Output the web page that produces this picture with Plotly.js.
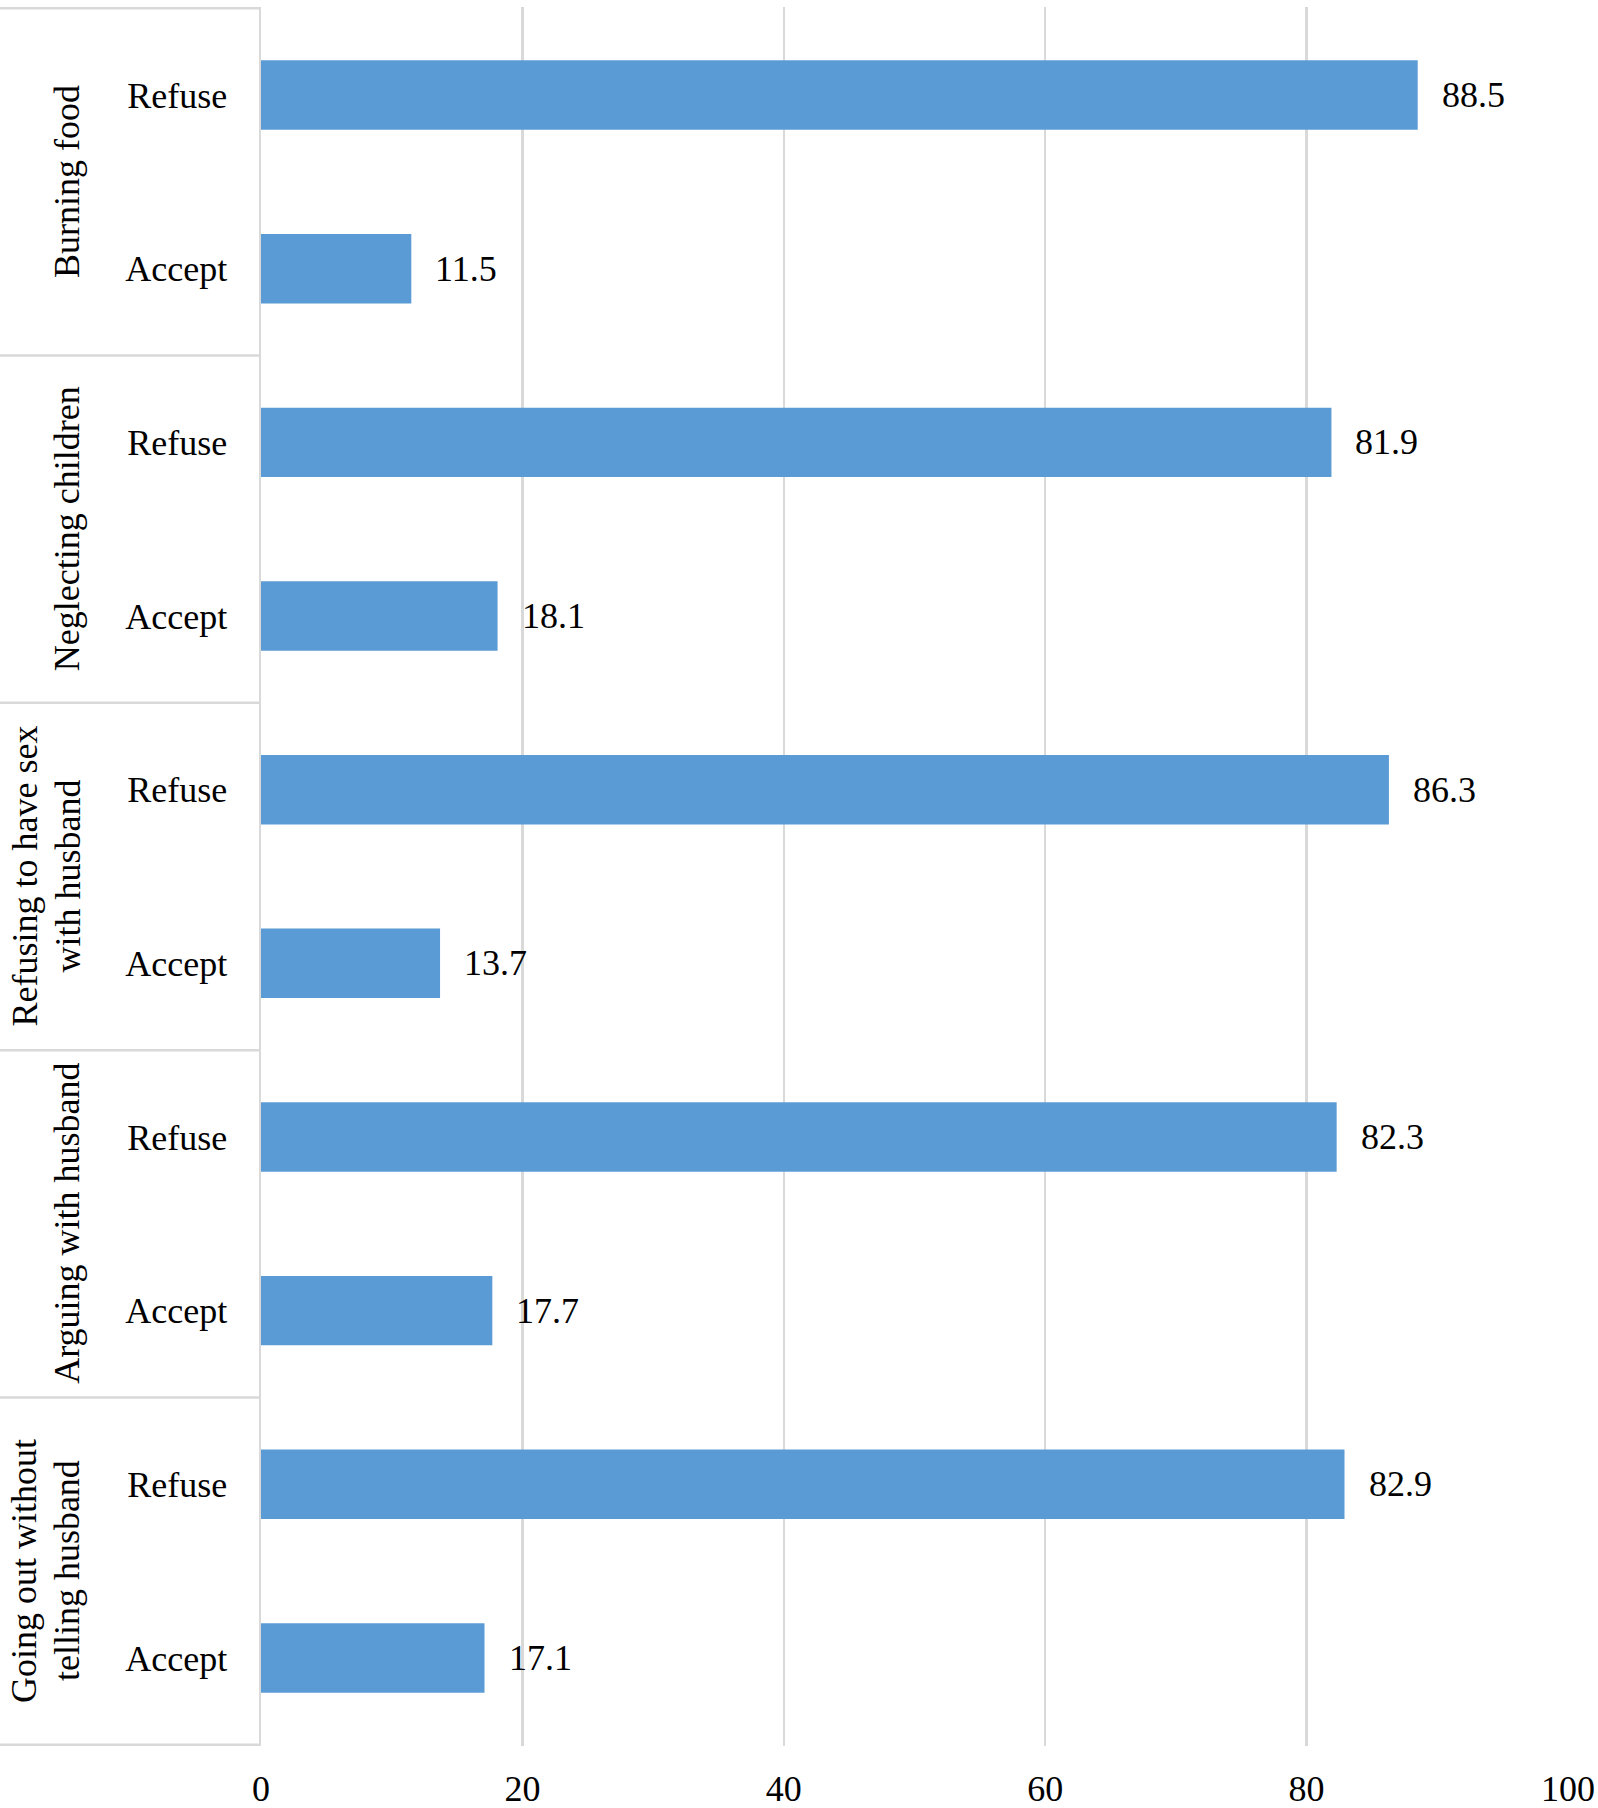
<!DOCTYPE html>
<html><head><meta charset="utf-8">
<script src="https://cdn.plot.ly/plotly-3.0.1.min.js"></script>
<style>body{margin:0;background:#fff}</style>
</head><body><div id="chart" style="width:1598px;height:1808px"></div>
<script>
const groups = ['Burning food', 'Neglecting children', 'Refusing to have sex<br>with husband', 'Arguing with husband', 'Going out without<br>telling husband'];
const responses = ['Refuse', 'Accept'];
const refuseValues = [88.5, 81.9, 86.3, 82.3, 82.9];
const acceptValues = [11.5, 18.1, 13.7, 17.7, 17.1];
const xTicks = [0, 20, 40, 60, 80, 100];

const FONT = '"Liberation Serif", "Times New Roman", serif';
const FS = 36;
const GRID = '#d9d9d9';

const cats = [], vals = [], tickText = [];
groups.forEach((g, i) => {
  const series = [refuseValues[i], acceptValues[i]];
  responses.forEach((r, j) => {
    cats.push('g' + i + '|' + r);
    vals.push(series[j]);
    tickText.push(r);
  });
});

const annotations = [];
cats.forEach((c, k) => {
  annotations.push({
    x: vals[k], y: c, xref: 'x', yref: 'y',
    text: vals[k].toFixed(1), showarrow: false,
    xanchor: 'left', xshift: 22,
    font: {family: FONT, size: FS, color: '#000'}
  });
});
groups.forEach((g, i) => {
  const lines = g.split('<br>');
  lines.forEach((ln, k) => {
    annotations.push({
      x: 0, xref: 'paper', y: 2 * i + 0.5, yref: 'y',
      text: ln, showarrow: false, textangle: -90,
      xanchor: 'right', xshift: -172 - (lines.length - 1 - k) * 43, align: 'center',
      font: {family: FONT, size: FS, color: '#000'}
    });
  });
});

const shapes = [];
for (let i = 0; i <= groups.length; i++) {
  shapes.push({
    type: 'line', xref: 'paper', yref: 'y',
    x0: -0.2, x1: 0, y0: 2 * i - 0.5, y1: 2 * i - 0.5,
    line: {color: GRID, width: 2.5}
  });
}

const trace = {
  type: 'bar', orientation: 'h',
  x: vals, y: cats,
  marker: {color: '#5B9BD5'},
  hoverinfo: 'skip', cliponaxis: false
};

const layout = {
  width: 1598, height: 1808,
  margin: {l: 261, r: 30, t: 7, b: 62, pad: 0},
  paper_bgcolor: '#fff', plot_bgcolor: '#fff',
  bargap: 0.6, showlegend: false,
  font: {family: FONT, size: FS, color: '#000'},
  xaxis: {
    range: [0, 100], tickvals: xTicks, ticktext: xTicks.map(String),
    showgrid: true, gridcolor: GRID, gridwidth: 2.5,
    zeroline: false, showline: false, ticks: '',
    ticklabelstandoff: 18,
    tickfont: {family: FONT, size: FS, color: '#000'}
  },
  yaxis: {
    type: 'category', autorange: 'reversed',
    tickvals: cats, ticktext: tickText,
    showgrid: false, zeroline: false,
    showline: true, linecolor: GRID, linewidth: 2.5,
    ticks: '', ticklabelstandoff: 24,
    tickfont: {family: FONT, size: FS, color: '#000'}
  },
  annotations: annotations,
  shapes: shapes
};

Plotly.newPlot('chart', [trace], layout, {displayModeBar: false, staticPlot: true});
</script>
</body></html>
